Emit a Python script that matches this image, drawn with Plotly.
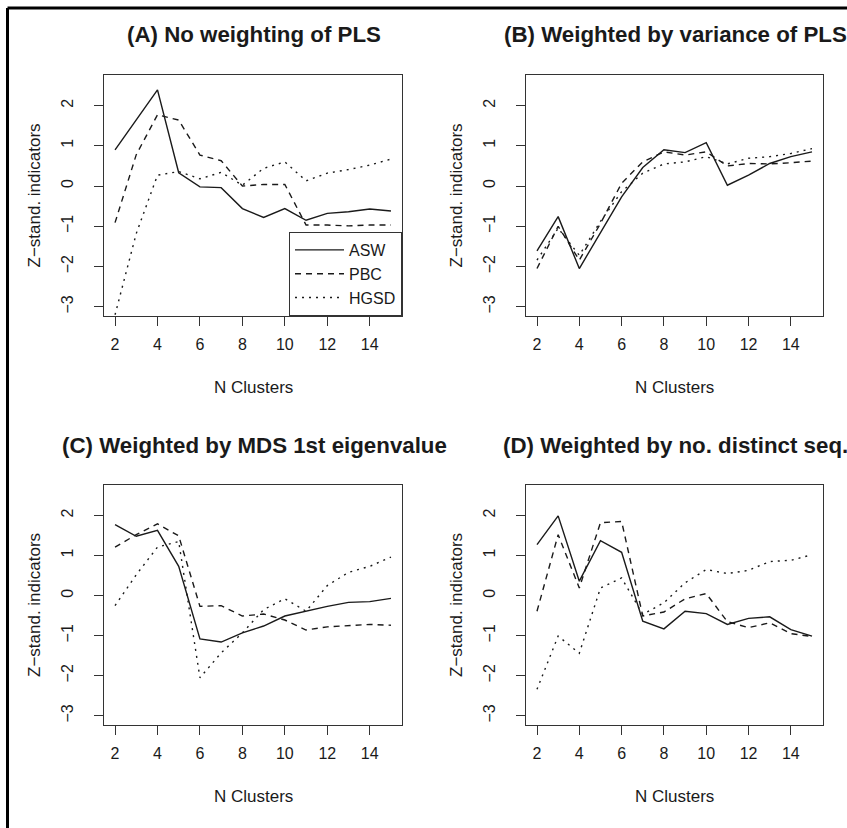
import plotly.graph_objects as go

# ---------------- data ----------------
n_clusters = [2, 3, 4, 5, 6, 7, 8, 9, 10, 11, 12, 13, 14, 15]

panel_titles = ["(A) No weighting of PLS",
                "(B) Weighted by variance of PLS",
                "(C) Weighted by MDS 1st eigenvalue",
                "(D) Weighted by no. distinct seq."]

series_names = ["ASW", "PBC", "HGSD"]

# Panel A
a_asw  = [0.90, 1.65, 2.39, 0.33, -0.02, -0.04, -0.56, -0.78, -0.56, -0.85, -0.68, -0.64, -0.57, -0.62]
a_pbc  = [-0.91, 0.78, 1.77, 1.64, 0.77, 0.63, 0.00, 0.04, 0.04, -0.97, -0.97, -0.99, -0.97, -0.97]
a_hgsd = [-3.20, -1.18, 0.27, 0.36, 0.18, 0.34, 0.02, 0.44, 0.60, 0.13, 0.32, 0.41, 0.52, 0.67]
# Panel B
b_asw  = [-1.61, -0.76, -2.05, -1.15, -0.27, 0.46, 0.90, 0.83, 1.08, 0.02, 0.27, 0.56, 0.73, 0.85]
b_pbc  = [-2.05, -1.00, -1.84, -0.93, 0.07, 0.60, 0.85, 0.77, 0.85, 0.50, 0.56, 0.55, 0.58, 0.62]
b_hgsd = [-1.84, -1.05, -1.72, -0.88, -0.14, 0.32, 0.55, 0.60, 0.73, 0.55, 0.69, 0.73, 0.81, 0.93]
# Panel C
c_asw  = [1.77, 1.48, 1.63, 0.73, -1.08, -1.16, -0.93, -0.76, -0.51, -0.39, -0.27, -0.17, -0.15, -0.07]
c_pbc  = [1.21, 1.52, 1.79, 1.49, -0.27, -0.25, -0.51, -0.46, -0.61, -0.86, -0.78, -0.75, -0.72, -0.74]
c_hgsd = [-0.25, 0.52, 1.21, 1.35, -2.05, -1.43, -0.93, -0.35, -0.08, -0.39, 0.25, 0.58, 0.73, 0.96]
# Panel D
d_asw  = [1.27, 1.99, 0.36, 1.37, 1.08, -0.64, -0.83, -0.39, -0.45, -0.72, -0.57, -0.53, -0.85, -1.01]
d_pbc  = [-0.39, 1.52, 0.19, 1.82, 1.85, -0.51, -0.41, -0.08, 0.05, -0.65, -0.80, -0.68, -0.95, -1.02]
d_hgsd = [-2.34, -1.01, -1.44, 0.19, 0.44, -0.47, -0.18, 0.32, 0.65, 0.55, 0.63, 0.85, 0.88, 1.02]

panels = [[a_asw, a_pbc, a_hgsd],
          [b_asw, b_pbc, b_hgsd],
          [c_asw, c_pbc, c_hgsd],
          [d_asw, d_pbc, d_hgsd]]

x_ticks = [2, 4, 6, 8, 10, 12, 14]
y_ticks = [-3, -2, -1, 0, 1, 2]

# ---------------- layout geometry (pixels) ----------------
W, H = 847, 828
FONT = "Liberation Sans, Arial, Helvetica, sans-serif"
INK = "#1a1a1a"
BOX = "#333333"

col_px = [(104, 402), (526, 823)]
row_px = [(75, 316), (485, 725)]

def px_x(p):
    return p / W

def px_y(p):
    return 1 - p / H

dashes = ["solid", "6px,5px", "2px,5px"]

fig = go.Figure()
annotations = []

for i, series in enumerate(panels):
    r, c = divmod(i, 2)
    ax = "" if i == 0 else str(i + 1)
    for j, vals in enumerate(series):
        fig.add_trace(go.Scatter(
            x=n_clusters, y=vals, mode="lines",
            name=series_names[j],
            line=dict(color=INK, width=1.4, dash=dashes[j]),
            showlegend=(i == 0),
            xaxis="x" + ax, yaxis="y" + ax,
        ))
    x0, x1 = col_px[c]
    y0, y1 = row_px[r]
    common = dict(showline=True, mirror=True, linecolor=BOX, linewidth=1,
                  ticks="outside", ticklen=9, tickwidth=1, tickcolor=BOX,
                  showgrid=False, zeroline=False,
                  tickfont=dict(family=FONT, size=16, color=INK))
    fig.update_layout(**{
        "xaxis" + ax: dict(domain=[px_x(x0), px_x(x1)], range=[1.48, 15.52],
                           tickvals=x_ticks, anchor="y" + ax,
                           ticklabelstandoff=5, **common),
        "yaxis" + ax: dict(domain=[px_y(y1), px_y(y0)], range=[-3.23, 2.76],
                           tickvals=y_ticks, anchor="x" + ax, tickangle=-90,
                           ticklabelstandoff=15, **common),
    })
    cx = (x0 + x1) / 2
    annotations.append(dict(text="<b>" + panel_titles[i] + "</b>", x=px_x(cx + 1), y=px_y(y0 - 40),
                            xref="paper", yref="paper", showarrow=False,
                            xanchor="center", yanchor="middle",
                            font=dict(family=FONT, size=22.3, color=INK)))
    annotations.append(dict(text="N Clusters", x=px_x(cx), y=px_y(y1 + 71),
                            xref="paper", yref="paper", showarrow=False,
                            xanchor="center", yanchor="middle",
                            font=dict(family=FONT, size=17, color=INK)))
    annotations.append(dict(text="Z−stand. indicators", x=px_x(x0 - 70), y=px_y((y0 + y1) / 2),
                            xref="paper", yref="paper", showarrow=False, textangle=-90,
                            xanchor="center", yanchor="middle",
                            font=dict(family=FONT, size=17, color=INK)))

shapes = [
    dict(type="line", xref="paper", yref="paper", x0=px_x(7.5), x1=1.0, y0=px_y(8), y1=px_y(8),
         line=dict(color="black", width=3)),
    dict(type="line", xref="paper", yref="paper", x0=px_x(7.5), x1=px_x(7.5), y0=px_y(8), y1=0.0,
         line=dict(color="black", width=3)),
]

fig.update_layout(
    width=W, height=H, margin=dict(l=0, r=0, t=0, b=0),
    paper_bgcolor="white", plot_bgcolor="white",
    annotations=annotations, shapes=shapes,
    legend=dict(x=px_x(402), y=px_y(316), xanchor="right", yanchor="bottom",
                bgcolor="white", bordercolor=BOX, borderwidth=1,
                font=dict(family=FONT, size=16, color=INK),
                tracegroupgap=0, itemwidth=49),
    font=dict(family=FONT, color=INK),
)

fig.write_html("out.html",
               config={"displayModeBar": False},
               post_script="document.body.style.margin='0';document.body.style.overflow='hidden';")
